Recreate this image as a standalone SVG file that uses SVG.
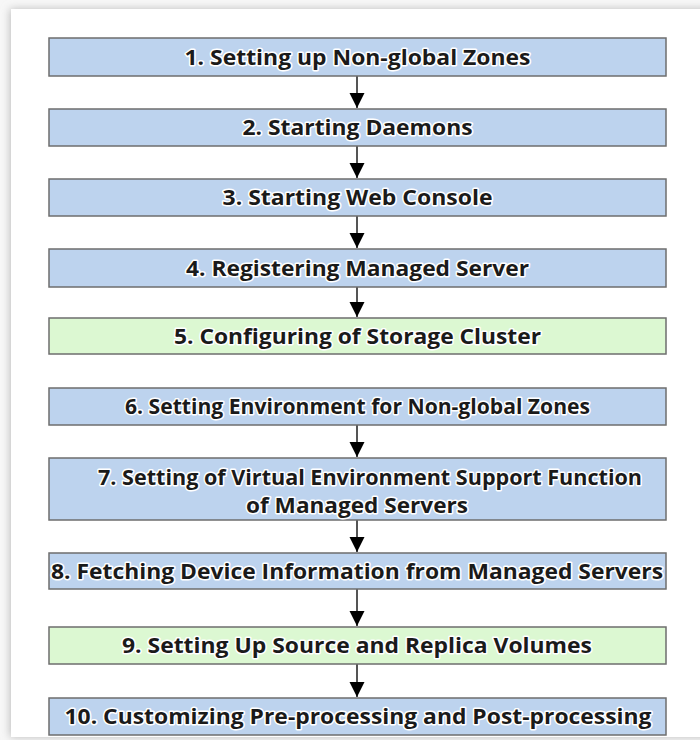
<svg xmlns="http://www.w3.org/2000/svg" width="700" height="740" viewBox="0 0 700 740">
<defs>
<filter id="sh" x="-5%" y="-5%" width="110%" height="110%"><feGaussianBlur stdDeviation="4"/></filter>
<marker id="ah" markerWidth="16" markerHeight="16" refX="15" refY="7.5" orient="auto" markerUnits="userSpaceOnUse"><path d="M0,0 L15,7.5 L0,15 Z" fill="#000"/></marker>
</defs>
<style>
.b{fill:#bdd3ee;stroke:#6e6e6e;stroke-width:1.5}
.g{fill:#dcf8d2;stroke:#6e6e6e;stroke-width:1.5}
.t{font-family:"Open Sans","DejaVu Sans",sans-serif;font-weight:700;font-size:22px;fill:#1a1a1a;stroke:#fff;stroke-width:3;stroke-linejoin:round;paint-order:stroke;text-anchor:middle}
.c{stroke:#555;stroke-width:2;fill:none}
</style>
<rect width="700" height="740" fill="#f7f7f7"/>
<rect x="10" y="9" width="700" height="728" fill="#bbb" filter="url(#sh)"/>
<rect x="11" y="9" width="700" height="728" fill="#fff"/>
<g id="connectors">
<line class="c" x1="357" y1="76" x2="357" y2="108" marker-end="url(#ah)"/>
<line class="c" x1="357" y1="146" x2="357" y2="178" marker-end="url(#ah)"/>
<line class="c" x1="357" y1="216" x2="357" y2="248" marker-end="url(#ah)"/>
<line class="c" x1="357" y1="287" x2="357" y2="317" marker-end="url(#ah)"/>
<line class="c" x1="357" y1="425" x2="357" y2="457" marker-end="url(#ah)"/>
<line class="c" x1="357" y1="520" x2="357" y2="552" marker-end="url(#ah)"/>
<line class="c" x1="357" y1="589" x2="357" y2="626" marker-end="url(#ah)"/>
<line class="c" x1="357" y1="664" x2="357" y2="697" marker-end="url(#ah)"/>
</g>
<g id="n1"><rect class="b" x="49" y="38" width="617" height="38"/><text class="t" x="357.5" y="65" textLength="346" lengthAdjust="spacingAndGlyphs">1. Setting up Non-global Zones</text></g>
<g id="n2"><rect class="b" x="49" y="109" width="617" height="37"/><text class="t" x="357.5" y="135" textLength="230" lengthAdjust="spacingAndGlyphs">2. Starting Daemons</text></g>
<g id="n3"><rect class="b" x="49" y="179" width="617" height="37"/><text class="t" x="357.5" y="205" textLength="270" lengthAdjust="spacingAndGlyphs">3. Starting Web Console</text></g>
<g id="n4"><rect class="b" x="49" y="249" width="617" height="38"/><text class="t" x="357.5" y="276" textLength="343" lengthAdjust="spacingAndGlyphs">4. Registering Managed Server</text></g>
<g id="n5"><rect class="g" x="49" y="318" width="617" height="36"/><text class="t" x="357.5" y="344" textLength="367" lengthAdjust="spacingAndGlyphs">5. Configuring of Storage Cluster</text></g>
<g id="n6"><rect class="b" x="49" y="388" width="617" height="37"/><text class="t" x="357.5" y="414" textLength="465" lengthAdjust="spacingAndGlyphs">6. Setting Environment for Non-global Zones</text></g>
<g id="n7"><rect class="b" x="49" y="458" width="617" height="62"/><text class="t" x="370" y="485" textLength="544" lengthAdjust="spacingAndGlyphs">7. Setting of Virtual Environment Support Function</text><text class="t" x="357" y="513" textLength="222" lengthAdjust="spacingAndGlyphs">of Managed Servers</text></g>
<g id="n8"><rect class="b" x="49" y="553" width="617" height="36"/><text class="t" x="357" y="579" textLength="612" lengthAdjust="spacingAndGlyphs">8. Fetching Device Information from Managed Servers</text></g>
<g id="n9"><rect class="g" x="49" y="627" width="617" height="37"/><text class="t" x="357" y="653" textLength="470" lengthAdjust="spacingAndGlyphs">9. Setting Up Source and Replica Volumes</text></g>
<g id="n10"><rect class="b" x="49" y="698" width="617" height="37"/><text class="t" x="358" y="724" textLength="587" lengthAdjust="spacingAndGlyphs">10. Customizing Pre-processing and Post-processing</text></g>
</svg>
